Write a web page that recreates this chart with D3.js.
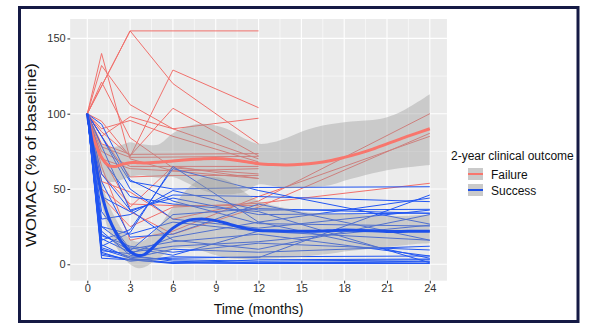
<!DOCTYPE html>
<html>
<head>
<meta charset="utf-8">
<script src="https://cdn.jsdelivr.net/npm/d3@7"></script>
<style>
  body { margin: 0; background: #fff; }
  svg { display: block; }
  text { font-family: "Liberation Sans", Arial, Helvetica, sans-serif; }
</style>
</head>
<body>
<svg id="chart" width="607" height="327"></svg>
<script>
// Visit months at which WOMAC was recorded (% of each patient's baseline)
const months = [0, 1, 3, 6, 12, 24];

// Individual patient trajectories, one value per visit month (null = not recorded)
const failure = [
  [100, null, 155, null, 155, null],
  [100, 140, 70, 62, 57, null],
  [100, 132, 106, 90, 70, null],
  [100, 121, 84, 64, 60, null],
  [100, null, 155, 120, 80, null],
  [100, 95, 71.5, 129, 104, null],
  [100, 88, 72, 103.6, 72, null],
  [100, 85, 98, 90, 97, null],
  [100, 90, 95.5, 85, 68, null],
  [100, 80, 73, null, 73.5, null],
  [100, 78, 71, null, 71.7, null],
  [100, 75, 65, null, 65, null],
  [100, 70, 63.5, 62, 63.5, null],
  [100, 85, 58, 59, 59, null],
  [100, 60, 40, 39, 39, null],
  [100, 55, 48, 30, 42, 100],
  [100, 50, 35, 20, 38, 87],
  [100, 65, 16, 22, 45, 85],
  [100, 45, 25, 38, 40.5, 53.8],
  [100, 72, 38, 65, 57, null]
];

const success = [
  [100, 93, 56, 42, 27, 25.4],
  [100, 12, 21, 65, 28, 4],
  [100, 16, 23, 63.5, 49, 26.7],
  [100, null, 55, 50, 51, 51.5],
  [100, 45, 35, 46, 45, 41.6],
  [100, 30, 33, 49, 36, 36.5],
  [100, 20, 9, 33, 37, 33.8],
  [100, 25, 11, 6, 22, 16],
  [100, 11, 5, 3, 2, 3],
  [100, 4, 3, 1, 0.5, 0.5],
  [100, 8, 2, 5, 4.4, 46],
  [100, 19, 12, 8, 14, 9.5],
  [100, 35, 10, 15, 20, 5.5],
  [100, 70, 45, 40, 35, 1],
  [100, 85, 50, 30, 24, 36],
  [100, 22, 6, 2, 1, 2],
  [100, 13, 4, 10, 8, 12],
  [100, 55, 18, 20, 40, 16],
  [100, null, 36, 44, 33, 34],
  [100, 9, 7, 18, 28, 44],
  [100, 6, 3, 4, 5, 5.5],
  [100, 17, 8, 12, 15, 26],
  [100, 25, 20, 28, 22, 22],
  [100, 10, 4, 1, 0.8, 1.5],
  [100, 7, 3, 0.5, 3, 3.5],
  [100, 60, 36, 16, 10, 33]
];

// Smoothed group means with confidence bands
const fitMonths = [0, 0.5, 1, 1.5, 2, 2.5, 3, 3.5, 4, 5, 6, 7, 8, 9, 10, 11, 12,
                   13, 14, 15, 16, 17, 18, 19, 20, 21, 22, 23, 24];
const failureFit  = [100, 82, 71, 65.5, 65, 66.5, 67.5, 67.5, 67.3, 67.8, 68.6, 69.5, 70, 70.2, 69.6, 68.2, 66.8,
                     66.2, 66, 66.4, 67.3, 68.8, 71, 73.5, 76.5, 80, 83.5, 86.8, 90];
const failureHigh = [100, 90, 80, 78, 78, 79.5, 81, 80, 79.6, 79.6, 87, 91.5, 93.3, 92.2, 89, 83.5, 80,
                     81, 84, 88, 91, 93, 94.4, 95.2, 95.8, 97.7, 101.5, 107, 113];
const failureLow  = [100, 74, 62, 55, 55, 56.5, 58, 59, 59, 57.5, 58, 54, 49.5, 47, 46.5, 48, 53,
                     52, 50.5, 51, 51.5, 52.5, 55.5, 58, 60.5, 62.5, 64, 65, 66];
const successFit  = [100, 72, 47, 31, 21, 13.5, 8.5, 6, 6.5, 15, 24, 29, 30, 29, 26.5, 24, 22.5,
                     22.2, 22, 22, 22, 22.3, 22.7, 22.5, 22.2, 21.8, 21.8, 22, 22];
const successHigh = [100, 80, 55, 40, 30, 22, 17, 15, 16, 25, 38, 50, 57, 58, 55, 48, 42,
                     39, 37, 35, 34, 33.5, 33.5, 33, 32.5, 32, 32, 32.5, 33];
const successLow  = [98, 65, 40, 22, 12, 5, 0, -2.5, -2, 4, 10, 11, 9, 6, 4, 3.5, 3.5,
                     4, 4.5, 5, 6, 7, 8.5, 9.5, 10.5, 11.5, 12.5, 13.5, 14];

const xTicks = [0, 3, 6, 9, 12, 15, 18, 21, 24];
const xMinor = [1.5, 4.5, 7.5, 10.5, 13.5, 16.5, 19.5, 22.5];
const yTicks = [0, 50, 100, 150];
const yMinor = [25, 75, 125];

const outcomes = ["Failure", "Success"];
const lineColor = { Failure: "#F0706C", Success: "#2256F2" };
const fitColor  = { Failure: "#F8766D", Success: "#1D4FEA" };

const svg = d3.select("#chart");

// Outer frame
svg.append("rect")
  .attr("x", 19.5).attr("y", 7.5).attr("width", 558.5).attr("height", 314)
  .attr("fill", "#fff").attr("stroke", "#151a45").attr("stroke-width", 3);

const x = d3.scaleLinear().domain([0, 24]).range([87.3, 429.8]);
const y = d3.scaleLinear().domain([-10.9, 162.9]).range([280.7, 19]);

const pL = x(-1.2), pR = x(25.2), pT = y(162.9), pB = y(-10.9);

svg.append("defs").append("clipPath").attr("id", "panel")
  .append("rect").attr("x", pL).attr("y", pT).attr("width", pR - pL).attr("height", pB - pT);

svg.append("rect").attr("x", pL).attr("y", pT).attr("width", pR - pL).attr("height", pB - pT)
  .attr("fill", "#EBEBEB");

const grid = svg.append("g").attr("stroke", "#fff");
grid.selectAll(".vmin").data(xMinor).join("line")
  .attr("x1", d => x(d)).attr("x2", d => x(d)).attr("y1", pT).attr("y2", pB).attr("stroke-width", 0.55);
grid.selectAll(".hmin").data(yMinor).join("line")
  .attr("y1", d => y(d)).attr("y2", d => y(d)).attr("x1", pL).attr("x2", pR).attr("stroke-width", 0.55);
grid.selectAll(".vmaj").data(xTicks).join("line")
  .attr("x1", d => x(d)).attr("x2", d => x(d)).attr("y1", pT).attr("y2", pB).attr("stroke-width", 1.1);
grid.selectAll(".hmaj").data(yTicks).join("line")
  .attr("y1", d => y(d)).attr("y2", d => y(d)).attr("x1", pL).attr("x2", pR).attr("stroke-width", 1.1);

const plot = svg.append("g").attr("clip-path", "url(#panel)");

const path = d3.line().x(d => x(d[0])).y(d => y(d[1]));
const toPoints = vals => vals.map((v, i) => [months[i], v]).filter(p => p[1] !== null);

// Patient trajectories
[["Failure", failure], ["Success", success]].forEach(([g, rows]) => {
  plot.append("g").selectAll("path").data(rows).join("path")
    .attr("d", r => path(toPoints(r)))
    .attr("fill", "none")
    .attr("stroke", lineColor[g])
    .attr("stroke-width", 1)
    .attr("stroke-linejoin", "round");
});

// Confidence bands and fitted curves
const band = d3.area().curve(d3.curveCatmullRom)
  .x(d => x(d.t)).y0(d => y(d.lo)).y1(d => y(d.hi));
const fit = d3.line().curve(d3.curveCatmullRom).x(d => x(d.t)).y(d => y(d.v));

const fits = {
  Failure: fitMonths.map((t, i) => ({ t, v: failureFit[i], lo: failureLow[i], hi: failureHigh[i] })),
  Success: fitMonths.map((t, i) => ({ t, v: successFit[i], lo: successLow[i], hi: successHigh[i] }))
};

outcomes.forEach(g => {
  plot.append("path").attr("d", band(fits[g]))
    .attr("fill", "#999999").attr("fill-opacity", 0.4);
});
outcomes.forEach(g => {
  plot.append("path").attr("d", fit(fits[g]))
    .attr("fill", "none").attr("stroke", fitColor[g]).attr("stroke-width", 3)
    .attr("stroke-linecap", "butt");
});

// Axes
const xAxis = svg.append("g").attr("transform", `translate(0,${pB})`)
  .call(d3.axisBottom(x).tickValues(xTicks).tickSize(2.75).tickPadding(1.2));
const yAxis = svg.append("g").attr("transform", `translate(${pL},0)`)
  .call(d3.axisLeft(y).tickValues(yTicks).tickSize(2.75).tickPadding(1.8));
[xAxis, yAxis].forEach(a => {
  a.select(".domain").remove();
  a.selectAll(".tick line").attr("stroke", "#333").attr("stroke-width", 1);
  a.selectAll(".tick text").attr("fill", "#333").attr("font-size", 11)
    .style("font-family", '"Liberation Sans", Arial, sans-serif');
});

svg.append("text")
  .attr("x", (pL + pR) / 2).attr("y", 314.3)
  .attr("text-anchor", "middle").attr("font-size", 14).attr("fill", "#111")
  .text("Time (months)");

svg.append("text")
  .attr("transform", `translate(36,155) rotate(-90)`)
  .attr("text-anchor", "middle").attr("font-size", 15).attr("fill", "#111")
  .attr("textLength", 184).attr("lengthAdjust", "spacingAndGlyphs")
  .text("WOMAC (% of baseline)");

// Legend
const legend = svg.append("g");
legend.append("text").attr("x", 451).attr("y", 160)
  .attr("font-size", 12).attr("fill", "#111").text("2-year clinical outcome");
outcomes.forEach((g, i) => {
  const ky = 168 + i * 16;
  legend.append("rect").attr("x", 468).attr("y", ky).attr("width", 15).attr("height", 12)
    .attr("fill", "#EBEBEB");
  legend.append("rect").attr("x", 468).attr("y", ky).attr("width", 15).attr("height", 12)
    .attr("fill", "#999999").attr("fill-opacity", 0.4);
  legend.append("line").attr("x1", 468).attr("x2", 483).attr("y1", ky + 6).attr("y2", ky + 6)
    .attr("stroke", fitColor[g]).attr("stroke-width", 2);
  legend.append("text").attr("x", 491).attr("y", ky + 10.5)
    .attr("font-size", 12).attr("fill", "#111").text(g);
});
</script>
</body>
</html>
